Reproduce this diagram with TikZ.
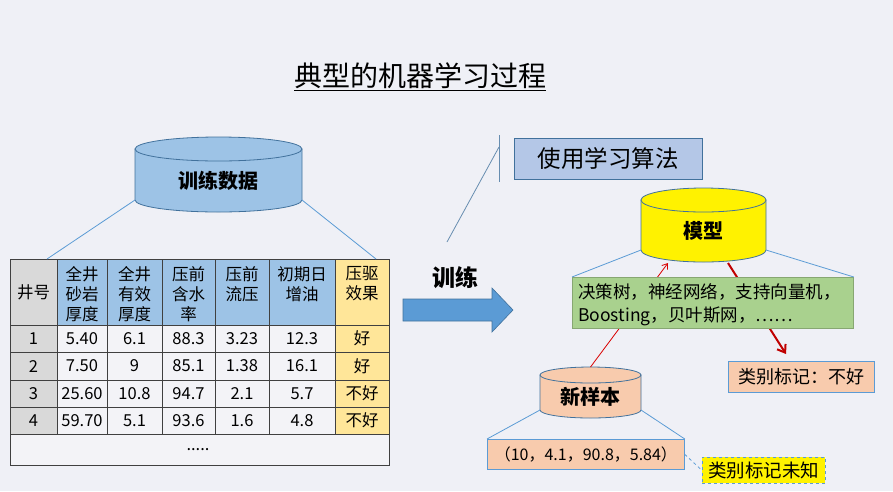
\documentclass[tikz,border=0pt]{standalone}
\usepackage{fontspec}
\setmainfont{Noto Sans CJK SC}
\usetikzlibrary{arrows.meta}

\definecolor{bgcol}{RGB}{239,240,246}
\definecolor{cylblue}{RGB}{157,195,230}
\definecolor{edgeblue}{RGB}{65,113,156}
\definecolor{lineblue}{RGB}{91,155,213}
\definecolor{hdrgray}{RGB}{217,217,217}
\definecolor{hdryellow}{RGB}{255,230,153}
\definecolor{cellwhite}{RGB}{243,243,247}
\definecolor{algblue}{RGB}{180,199,231}
\definecolor{modgreen}{RGB}{169,209,142}
\definecolor{greenedge}{RGB}{84,130,53}
\definecolor{peach}{RGB}{248,203,173}
\definecolor{darkred}{RGB}{192,0,0}

% name, cx, top y, bottom y, rx, ry, fill, label
\newcommand{\dbcyl}[8]{
  \path[draw=edgeblue, fill=#7, line width=0.8pt] (#2-#5,#3) -- (#2-#5,#4)
    arc[start angle=180, end angle=0, x radius=#5, y radius=#6] -- (#2+#5,#3) -- cycle;
  \draw[edgeblue, fill=#7, line width=0.8pt] (#2,#3) ellipse[x radius=#5, y radius=#6];
  \node[cyltext] (#1) at (#2,{(#3+#4)/2+#6/2}) {#8};
  \coordinate (#1-bl) at (#2-#5,#4);
  \coordinate (#1-br) at (#2+#5,#4);
  \coordinate (#1-t) at (#2,#3-#6);
}

\begin{document}
\begin{tikzpicture}[x=1pt, y=-1pt,
  cyltext/.style={font=\fontsize{20pt}{24pt}\selectfont\bfseries, inner sep=0pt},
  gridline/.style={draw=black!75, line width=0.8pt},
  hdrtext/.style={font=\fontsize{16.5pt}{20pt}\selectfont, align=center, anchor=north, inner sep=0pt},
  celltext/.style={font=\fontsize{16.5pt}{20pt}\selectfont, inner sep=0pt},
  zoomline/.style={draw=lineblue, line width=0.8pt},
  boxsty/.style={anchor=north west, inner sep=0pt, line width=0.8pt},
  thinred/.style={-{Straight Barb[length=5pt,width=7pt]}, red!85!black, line width=0.8pt},
  thickred/.style={-{Straight Barb[length=7pt,width=10pt]}, darkred, line width=2pt}]

\fill[bgcol] (0,0) rectangle (893,491);
\useasboundingbox (0,0) rectangle (893,491);

% title
\node[font=\fontsize{28pt}{32pt}\selectfont] (title) at (420,77) {\underline{典型的机器学习过程}};

% training data
\dbcyl{train}{218.5}{149}{200}{83.5}{12}{cylblue}{训练数据}

% table
\fill[hdrgray] (10,259) rectangle (57,434);
\fill[cylblue] (57,259) rectangle (335,325);
\fill[hdryellow] (335,259) rectangle (389,434);
\fill[cellwhite] (57,325) rectangle (335,434);
\fill[cellwhite] (10,434) rectangle (389,465);
\foreach \x in {57,107,162,215,269,335}
  \draw[gridline] (\x,259) -- (\x,434);
\foreach \y in {325,352,380,407,434}
  \draw[gridline] (10,\y) -- (389,\y);
\node[boxsty, gridline, minimum width=379pt, minimum height=206pt] (tbl) at (10,259) {};

\node[celltext] (h1) at (33.5,292) {井号};
\node[hdrtext] (h2) at (82,266) {全井\\砂岩\\厚度};
\node[hdrtext] (h3) at (134.5,266) {全井\\有效\\厚度};
\node[hdrtext] (h4) at (188.5,266) {压前\\含水\\率};
\node[hdrtext] (h5) at (242,266) {压前\\流压};
\node[hdrtext] (h6) at (302,266) {初期日\\增油};
\node[hdrtext] (h7) at (362,266) {压驱\\效果};

\foreach \r/\y/\a/\b/\c/\d/\e/\g in {1/338.5/5.40/6.1/88.3/3.23/12.3/好,
    2/366/7.50/9/85.1/1.38/16.1/好, 3/393.5/25.60/10.8/94.7/2.1/5.7/不好,
    4/420.5/59.70/5.1/93.6/1.6/4.8/不好}{
  \node[celltext] (no-\r) at (33.5,\y) {\r};
  \node[celltext] (sand-\r) at (82,\y) {\a};
  \node[celltext] (eff-\r) at (134.5,\y) {\b};
  \node[celltext] (water-\r) at (188.5,\y) {\c};
  \node[celltext] (press-\r) at (242,\y) {\d};
  \node[celltext] (oil-\r) at (302,\y) {\e};
  \node[celltext] (res-\r) at (362,\y) {\g};
}
\node[celltext] (more) at (198,450) {.....};

\coordinate (tbl-l) at (47,259);
\coordinate (tbl-r) at (376,259);
\draw[zoomline] (train-bl) -- (tbl-l);
\draw[zoomline] (train-br) -- (tbl-r);

% training arrow
\draw[fill=lineblue, draw=edgeblue, line width=0.6pt] (403,299) -- (492,299) -- (492,288) -- (513,310)
  -- (492,332) -- (492,321) -- (403,321) -- cycle;
\node[font=\fontsize{23pt}{26pt}\selectfont\bfseries, inner sep=0pt] (trainlbl) at (455,278) {训练};

% learning algorithm callout
\node[boxsty, draw=edgeblue, fill=algblue, minimum width=188pt, minimum height=41pt,
  font=\fontsize{23.5pt}{26pt}\selectfont] (algo) at (514,138) {使用学习算法};
\coordinate (call-tip) at (447,242);
\coordinate (call-top) at (499,135);
\coordinate (call-mid) at (499,147);
\coordinate (call-bot) at (499,182);
\draw[draw=edgeblue!80, line width=0.8pt] (call-tip) -- (call-mid);
\draw[draw=edgeblue!80, line width=1pt] (call-top) -- (call-bot);

% red arrows (under the green box)
\dbcyl{model}{703.5}{200}{250}{62.5}{12}{yellow}{模型}
\dbcyl{newsamp}{590.5}{375}{410}{50.5}{8}{peach}{新样本}
\coordinate (model-in) at (668,263);
\coordinate (model-out) at (728,263);
\coordinate (res-in) at (786,354);
\draw[thinred] (newsamp-t) -- (model-in);
\draw[thickred] (model-out) -- (res-in);

% model methods
\node[boxsty, draw=greenedge!70, fill=modgreen, minimum width=281pt, minimum height=51pt] (algs) at (572,277) {};
\node[anchor=west, align=left, inner sep=0pt, font=\fontsize{17.5pt}{23pt}\selectfont]
  (algstext) at (578,305) {决策树，神经网络，支持向量机，\\Boosting，贝叶斯网，……};
\draw[zoomline] (model-bl) -- (algs.north west);
\draw[zoomline] (model-br) -- (algs.north east);

% result
\node[boxsty, draw=lineblue, fill=peach, minimum width=146pt, minimum height=31pt,
  font=\fontsize{18pt}{22pt}\selectfont] (result) at (728,361) {类别标记：不好};

% new sample
\node[boxsty, draw=lineblue, fill=peach, minimum width=197pt, minimum height=30pt,
  font=\fontsize{16pt}{20pt}\selectfont] (sample) at (487,439) {（10，4.1，90.8，5.84）};
\draw[zoomline] (newsamp-bl) -- (sample.north west);
\draw[zoomline] (newsamp-br) -- (sample.north east);

\node[boxsty, draw=lineblue, dashed, fill=yellow, minimum width=123pt, minimum height=26pt,
  font=\fontsize{18.5pt}{22pt}\selectfont] (unknown) at (702,457) {类别标记未知};
\draw[zoomline, dashed] (sample.east) -- (unknown.west);

\end{tikzpicture}
\end{document}
